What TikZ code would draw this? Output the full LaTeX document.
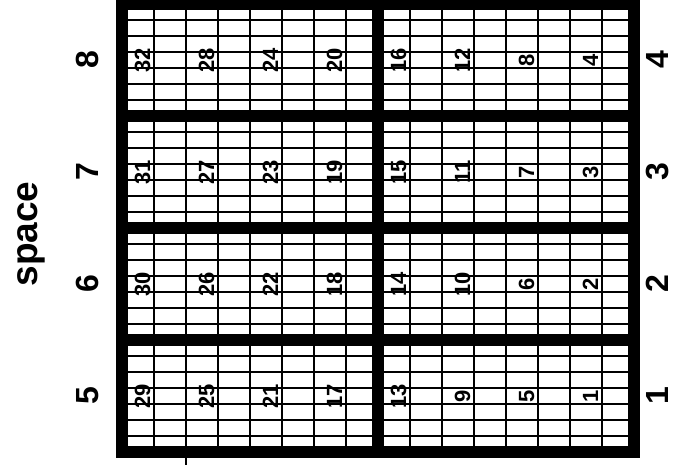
\documentclass[tikz,border=0pt]{standalone}
\usepackage{fontspec}
\setmainfont{Liberation Sans}
\usetikzlibrary{positioning}

\begin{document}
\begin{tikzpicture}[x=1pt, y=-1pt,
    frame/.style={draw=black, line width=11.5pt},
    minor/.style={draw=black, line width=1.2pt},
    major/.style={draw=black, line width=1.9pt},
    cellnum/.style={font=\fontsize{22}{22}\selectfont\bfseries, rotate=90, anchor=base, inner sep=0pt},
    sidenum/.style={font=\fontsize{32}{32}\selectfont\bfseries, rotate=90, anchor=base, inner sep=0pt}
]
    \useasboundingbox (0,0) rectangle (675,465);

    % Thin grid lines
    \foreach \x in {154,218,...,602} {
        \draw[minor] (\x,4) -- (\x,452);
    }
    \foreach \y in {20,36,...,436} {
        \draw[minor] (122,\y) -- (634,\y);
    }
    \foreach \x in {186,250,314,442,506,570} {
        \draw[major] (\x,4) -- (\x,452);
    }
    \draw[minor] (186,452) -- (186,465);

    % Thick frame and separators
    \draw[frame] (122,4) rectangle (634,452);
    \draw[frame] (378,4) -- (378,452);
    \foreach \y in {116,228,340} {
        \draw[frame] (122,\y) -- (634,\y);
    }

    % Cell numbers and row labels
    \foreach \r in {0,...,3} {
        \foreach \i in {0,...,7} {
            \pgfmathtruncatemacro{\n}{32-4*\i-\r}
            \node[cellnum] (c\n) at (150+64*\i, 60+112*\r) {\n};
        }
        \pgfmathtruncatemacro{\lft}{8-\r}
        \pgfmathtruncatemacro{\rgt}{4-\r}
        \node[sidenum] (l\lft) at (98, 60+112*\r) {\lft};
        \node[sidenum] (r\rgt) at (668, 60+112*\r) {\rgt};
    }

    \node[font=\fontsize{37}{37}\selectfont\bfseries, rotate=90, anchor=base, inner sep=0pt] (space) at (37,234) {space};

\end{tikzpicture}
\end{document}
